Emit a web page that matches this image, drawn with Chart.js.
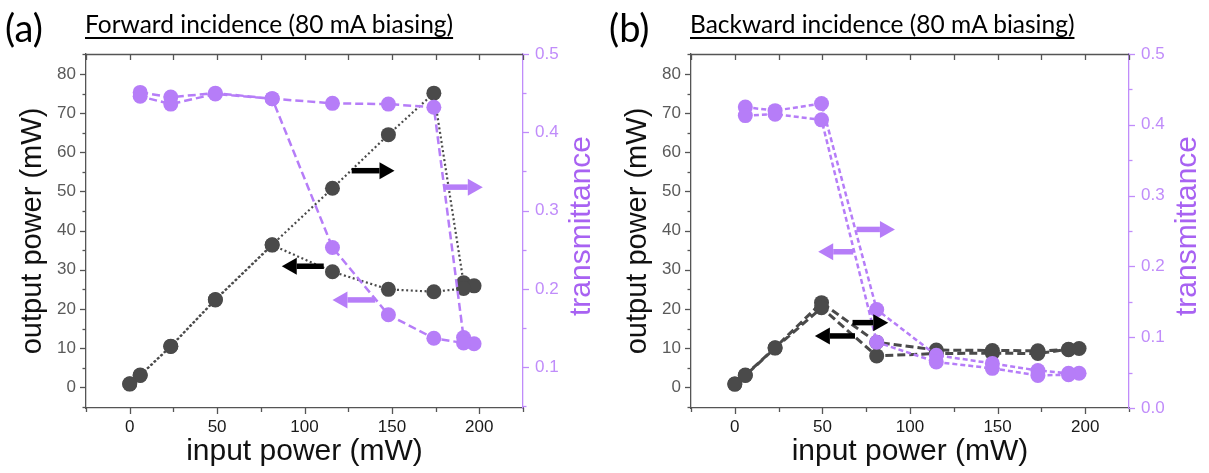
<!DOCTYPE html>
<html><head><meta charset="utf-8">
<script src="https://cdn.jsdelivr.net/npm/chart.js@4.4.1/dist/chart.umd.min.js"></script>
<style>
html,body{margin:0;padding:0;background:#fff;}
#wrap{position:relative;width:1209px;height:473px;overflow:hidden;background:#fff;}
canvas{position:absolute;top:0;}
.plab{position:absolute;font-family:Lato,'Open Sans',sans-serif;font-size:38px;line-height:1;color:#000;white-space:nowrap;}
.ptitle{position:absolute;font-family:Lato,'Open Sans',sans-serif;font-size:24.5px;line-height:1;color:#000;text-decoration:underline;text-underline-offset:4px;text-decoration-thickness:1.5px;white-space:nowrap;}
</style>
</head><body>
<div id="wrap">
  <canvas id="ca" width="604" height="473" style="left:0"></canvas>
  <canvas id="cb" width="605" height="473" style="left:604px"></canvas>
  <div class="plab" style="left:5px;top:8px">(a)</div>
  <div class="ptitle" style="left:85px;top:12px">Forward incidence (80 mA biasing)</div>
  <div class="plab" style="left:609px;top:8px">(b)</div>
  <div class="ptitle" style="left:690px;top:12px">Backward incidence (80 mA biasing)</div>
</div>
<script>
// ---------- data: panel (a) forward incidence ----------
const inA_power = [0, 6, 23.5, 49, 81.5, 116, 148, 174, 191, 197, 191, 174, 148, 116, 81.5, 49, 23.5, 6, 0];
const outA_power = [0.9, 3.1, 10.5, 22.4, 36.4, 50.8, 64.5, 75.1, 26.7, 25.9, 25.2, 24.4, 25.0, 29.5, 36.3, 22.3, 10.4, 3.0, 0.8];
const inA_trans = [6, 23.5, 49, 81.5, 116, 148, 174, 191, 197, 191, 174, 148, 116, 81.5, 49, 23.5, 6];
const transA = [0.451, 0.445, 0.450, 0.443, 0.437, 0.436, 0.432, 0.138, 0.130, 0.131, 0.137, 0.167, 0.253, 0.443, 0.449, 0.436, 0.446];

// ---------- data: panel (b) backward incidence ----------
const inB_power = [0, 6, 23, 49.5, 81, 115, 147, 173, 190.5, 196.5, 190.5, 173, 147, 115, 81, 49.5, 23, 6, 0];
const outB_power = [0.8, 3.1, 10.1, 21.6, 11.5, 9.5, 9.4, 9.3, 9.6, 9.9, 9.7, 8.6, 8.7, 8.6, 8.0, 20.3, 10.0, 3.0, 0.8];
const inB_trans = [6, 23, 49.5, 81, 115, 147, 173, 190.5, 196.5, 190.5, 173, 147, 115, 81, 49.5, 23, 6];
const transB = [0.425, 0.420, 0.430, 0.139, 0.0745, 0.063, 0.053, 0.049, 0.049, 0.047, 0.046, 0.056, 0.065, 0.093, 0.407, 0.415, 0.413];

// ---------- tick labels ----------
const xTickLabels = [0, 50, 100, 150, 200];
const xMinorTicks = [-25, 25, 75, 125, 175, 225];
const yTickLabels = [0, 10, 20, 30, 40, 50, 60, 70, 80];
const yMinorTicks = [-5, 5, 15, 25, 35, 45, 55, 65, 75, 85];
const tTickLabelsA = [0.1, 0.2, 0.3, 0.4, 0.5];
const tMinorTicksA = [0.05, 0.15, 0.25, 0.35, 0.45];
const tTickLabelsB = [0.0, 0.1, 0.2, 0.3, 0.4, 0.5];
const tMinorTicksB = [0.05, 0.15, 0.25, 0.35, 0.45];

// ---------- annotation arrows (data units: input power, output power) ----------
const arrowsA = [
  {x1: 127, x2: 151.5, y: 55.3, c: 'black'},
  {x1: 111, x2: 87, y: 30.9, c: 'black'},
  {x1: 180, x2: 202, y: 51.1, c: 'purple'},
  {x1: 140.5, x2: 116, y: 22.3, c: 'purple'}
];
const arrowsB = [
  {x1: 69.5, x2: 91.4, y: 40.3, c: 'purple'},
  {x1: 67.6, x2: 47.6, y: 34.6, c: 'purple'},
  {x1: 67.2, x2: 87.6, y: 16.5, c: 'black'},
  {x1: 68.6, x2: 45.7, y: 13.1, c: 'black'}
];

const GRAY = '#4a4a4a';
const PURPLE = '#b67df8';
const PURPLE_AXIS = '#c08cfa';
const PURPLE_TITLE = '#a862f2';
const AXIS = '#555555';
const FONT = "'Liberation Sans', Arial, sans-serif";

function pts(xs, ys) { return xs.map((x, i) => ({x: x, y: ys[i]})); }

function drawArrow(ctx, x1, x2, y, color) {
  const dir = Math.sign(x2 - x1);
  const headLen = 15, headHalf = 8.5, shaft = 5.5;
  const hx = x2 - dir * headLen;
  ctx.fillStyle = color;
  ctx.fillRect(Math.min(x1, hx), y - shaft / 2, Math.abs(hx - x1), shaft);
  ctx.beginPath();
  ctx.moveTo(x2, y);
  ctx.lineTo(hx, y - headHalf);
  ctx.lineTo(hx, y + headHalf);
  ctx.closePath();
  ctx.fill();
}

const decorPlugin = {
  id: 'decor',
  afterDatasetsDraw(chart, args, o) {
    const ctx = chart.ctx, xs = chart.scales.x, ys = chart.scales.y;
    ctx.save();
    o.arrows.forEach(a => {
      drawArrow(ctx, xs.getPixelForValue(a.x1), xs.getPixelForValue(a.x2), ys.getPixelForValue(a.y),
        a.c === 'black' ? '#000' : PURPLE);
    });
    ctx.restore();
  },
  afterDraw(chart, args, o) {
    const ctx = chart.ctx, ca = chart.chartArea;
    const xs = chart.scales.x, ys = chart.scales.y, ts = chart.scales.y1;
    ctx.save();
    ctx.lineWidth = 1.3;
    ctx.strokeStyle = AXIS;
    ctx.beginPath(); ctx.moveTo(ca.left, ca.top + 0.5); ctx.lineTo(ca.right, ca.top + 0.5); ctx.stroke();
    const hx = (v, len, y0, dir) => {
      const px = Math.round(xs.getPixelForValue(v)) + 0.5;
      ctx.beginPath(); ctx.moveTo(px, y0); ctx.lineTo(px, y0 + dir * len); ctx.stroke();
    };
    xTickLabels.forEach(v => { hx(v, 6, ca.bottom, 1); hx(v, 6, ca.top, 1); });
    xMinorTicks.forEach(v => { hx(v, 4, ca.bottom, 1); hx(v, 6, ca.top, 1); });
    const vy = (scale, v, len, x0, dir) => {
      const py = Math.round(scale.getPixelForValue(v)) + 0.5;
      if (py < ca.top - 1 || py > ca.bottom + 1) return;
      ctx.beginPath(); ctx.moveTo(x0, py); ctx.lineTo(x0 + dir * len, py); ctx.stroke();
    };
    yTickLabels.forEach(v => vy(ys, v, 6, ca.left, -1));
    yMinorTicks.forEach(v => vy(ys, v, 3.5, ca.left, -1));
    ctx.strokeStyle = PURPLE_AXIS;
    o.tMajor.forEach(v => vy(ts, v, 6, ca.right, 1));
    o.tMinor.forEach(v => vy(ts, v, 3.5, ca.right, 1));
    ctx.fillStyle = PURPLE_TITLE;
    ctx.font = '30px ' + FONT;
    ctx.textAlign = 'center';
    ctx.textBaseline = 'middle';
    ctx.translate(o.tTitleX, 226);
    ctx.rotate(-Math.PI / 2);
    ctx.fillText('transmittance', 0, 0);
    ctx.restore();
  }
};

function makeChart(id, cfg) {
  const W = cfg.width;
  return new Chart(document.getElementById(id), {
    type: 'scatter',
    data: {
      datasets: [
        {
          label: 'transmittance',
          data: pts(cfg.inT, cfg.trans),
          yAxisID: 'y1',
          showLine: true,
          order: 0,
          borderColor: PURPLE,
          backgroundColor: PURPLE,
          pointBackgroundColor: PURPLE,
          pointBorderColor: PURPLE,
          pointRadius: 7.5,
          pointBorderWidth: 0,
          borderWidth: cfg.tWidth,
          borderDash: cfg.tDash
        },
        {
          label: 'output power',
          data: pts(cfg.inP, cfg.outP),
          yAxisID: 'y',
          showLine: true,
          order: 1,
          borderColor: GRAY,
          backgroundColor: GRAY,
          pointBackgroundColor: GRAY,
          pointBorderColor: GRAY,
          pointRadius: 7.5,
          pointBorderWidth: 0,
          borderWidth: cfg.pWidth,
          borderDash: cfg.pDash
        }
      ]
    },
    options: {
      responsive: false,
      animation: false,
      devicePixelRatio: 1,
      layout: {padding: {top: 54, left: 0, right: 0, bottom: 0}},
      plugins: {
        legend: {display: false},
        tooltip: {enabled: false},
        decor: {arrows: cfg.arrows, tMajor: cfg.tMajor, tMinor: cfg.tMinor, tTitleX: cfg.tTitleX}
      },
      scales: {
        x: {
          type: 'linear', position: 'bottom', min: -25, max: 225,
          afterBuildTicks: s => { s.ticks = xTickLabels.map(v => ({value: v})); },
          afterFit: s => { s.height = 65; },
          grid: {display: false, drawTicks: true, tickLength: 6},
          border: {display: true, color: AXIS, width: 1.3},
          ticks: {font: {family: FONT, size: 17}, color: '#1a1a1a', padding: 3, maxRotation: 0, autoSkip: false},
          title: {display: true, text: 'input power (mW)', font: {family: FONT, size: 30}, color: '#111', padding: {top: 0, bottom: 3}}
        },
        y: {
          type: 'linear', position: 'left', min: -5.3, max: 85.1,
          afterBuildTicks: s => { s.ticks = yTickLabels.map(v => ({value: v})); },
          afterFit: s => { s.width = cfg.left; },
          grid: {display: false, drawTicks: true, tickLength: 6},
          border: {display: true, color: AXIS, width: 1.3},
          ticks: {font: {family: FONT, size: 17}, color: '#5a5a5a', padding: 4, autoSkip: false},
          title: {display: true, text: 'output power (mW)', font: {family: FONT, size: 29}, color: '#111', padding: {top: cfg.yTitlePad, bottom: 0}}
        },
        y1: {
          type: 'linear', position: 'right', min: cfg.tMin, max: 0.5,
          afterBuildTicks: s => { s.ticks = cfg.tMajor.map(v => ({value: v})); },
          afterFit: s => { s.width = W - cfg.right; },
          grid: {display: false, drawTicks: true, tickLength: 6},
          border: {display: true, color: PURPLE_AXIS, width: 1.3},
          ticks: {font: {family: FONT, size: 17}, color: PURPLE_AXIS, padding: 6, autoSkip: false,
                  callback: v => v.toFixed(1)}
        }
      }
    },
    plugins: [decorPlugin]
  });
}

makeChart('ca', {
  width: 604, left: 86, right: 523, tMin: 0.048,
  inP: inA_power, outP: outA_power, inT: inA_trans, trans: transA,
  tMajor: tTickLabelsA, tMinor: tMinorTicksA, arrows: arrowsA, tTitleX: 582, yTitlePad: 16,
  pWidth: 2.2, pDash: [2, 2.6], tWidth: 2.5, tDash: [8, 4]
});
makeChart('cb', {
  width: 605, left: 87, right: 525, tMin: 0,
  inP: inB_power, outP: outB_power, inT: inB_trans, trans: transB,
  tMajor: tTickLabelsB, tMinor: tMinorTicksB, arrows: arrowsB, tTitleX: 584, yTitlePad: 17,
  pWidth: 3, pDash: [8, 4], tWidth: 2.5, tDash: [5, 3]
});
</script>
</body></html>
